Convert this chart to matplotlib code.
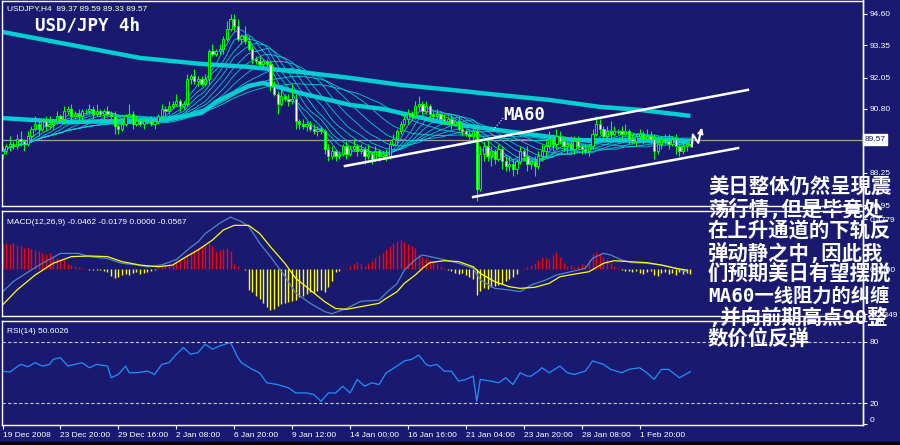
import numpy as np
import pandas as pd
import matplotlib
matplotlib.use('Agg')
import matplotlib.pyplot as plt
from matplotlib.transforms import blended_transform_factory
from matplotlib.lines import Line2D

BG = '#191970'
CYAN = '#00CED1'
GREEN = '#00FF00'
plt.rcParams['font.family'] = ['Liberation Sans', 'DejaVu Sans']

# --- H4 candles (closes, open = previous close) ---
closes = [89.1, 89.3, 89.4, 89.3, 89.6, 89.5, 89.4, 89.7, 90.0, 90.2,
          90.0, 90.3, 90.1, 90.2, 90.3, 90.5, 90.4, 90.7, 90.8, 90.5,
          90.6, 90.5, 90.7, 90.7, 90.8, 90.6, 90.7, 90.6, 90.7, 90.6,
          90.5, 90.1, 90.0, 90.2, 90.5, 90.6, 90.2, 90.3, 90.2, 90.3,
          90.3, 90.2, 90.3, 90.5, 90.8, 90.7, 90.9, 91.0, 91.1, 90.9,
          91.0, 92.0, 92.1, 91.9, 92.0, 91.8, 92.0, 93.1, 93.0, 93.1,
          93.2, 93.6, 94.0, 94.4, 94.1, 93.6, 93.7, 93.5, 93.2, 92.8,
          92.7, 92.6, 92.7, 92.6, 91.7, 91.4, 91.0, 91.3, 91.2, 91.1,
          91.2, 90.3, 90.2, 90.1, 90.2, 90.0, 89.9, 90.0, 89.9, 89.2,
          88.9, 89.1, 88.9, 89.0, 89.3, 89.0, 89.2, 89.3, 89.1, 89.2,
          88.9, 89.0, 88.8, 89.1, 88.9, 89.0, 88.9, 89.4, 89.6, 89.9,
          90.2, 90.4, 90.6, 90.5, 90.9, 91.0, 90.7, 90.9, 90.6, 90.5,
          90.6, 90.4, 90.3, 90.4, 90.2, 90.3, 90.0, 89.9, 89.8, 89.7,
          89.9, 87.6, 89.0, 89.3, 88.9, 89.1, 88.8, 89.2, 88.7, 88.5,
          88.6, 88.4, 88.7, 89.1, 88.9, 88.6, 88.7, 88.5, 88.9, 89.1,
          89.3, 89.6, 89.4, 89.7, 89.5, 89.3, 89.4, 89.2, 89.5, 89.3,
          89.2, 89.1, 89.3, 89.8, 90.2, 90.0, 89.7, 89.9, 89.8, 89.9,
          89.9, 89.8, 89.9, 89.6, 89.5, 89.7, 89.8, 89.6, 89.7, 89.6,
          89.1, 89.4, 89.6, 89.5, 89.4, 89.6, 89.3, 89.1, 89.3, 89.4, 89.57]
first_open = 89.0
wick_hi = [.2, .1, .3, .1, .2, .3, .1, .2, .1, .3,
           .2, .1, .2, .3, .1, .2, .1, .2, .1, .2,
           .1, .2, .1, .1, .2, .1, .3, .1, .1, .2,
           .1, .2, .1, .1, .1, .4, .1, .2, .1, .1,
           .1, .2, .1, .1, .2, .1, .2, .1, .3, .1,
           .1, .2, .1, .3, .1, .1, .2, .1, .3, .1,
           .2, .1, .3, .2, .2, .3, .1, .4, .2, .1,
           .1, .2, .1, .1, .1, .2, .1, .3, .1, .2,
           .6, .2, .1, .2, .1, .1, .2, .1, .1, .1,
           .2, .2, .1, .1, .1, .2, .1, .3, .1, .2,
           .1, .4, .1, .2, .1, .1, .2, .1, .2, .1,
           .1, .2, .2, .1, .2, .3, .1, .2, .1, .1,
           .2, .1, .2, .1, .2, .1, .2, .1, .1, .2,
           .3, .1, .3, .2, .3, .2, .1, .2, .1, .2,
           .3, .2, .1, .2, .1, .4, .1, .2, .2, .3,
           .2, .3, .2, .3, .2, .2, .1, .3, .2, .2,
           .1, .2, .1, .2, .3, .2, .1, .2, .4, .2,
           .1, .2, .3, .1, .2, .1, .2, .1, .3, .2,
           .2, .3, .1, .2, .3, .1, .2, .1, .2, .1, .05]
wick_lo = [.2, .1, .2, .1, .1, .2, .3, .1, .2, .1,
           .3, .1, .2, .1, .2, .1, .1, .2, .1, .3,
           .1, .1, .2, .1, .1, .2, .1, .1, .2, .1,
           .1, .3, .2, .1, .1, .1, .2, .1, .1, .2,
           .1, .1, .2, .1, .1, .2, .1, .1, .1, .2,
           .1, .1, .2, .1, .2, .1, .1, .2, .1, .1,
           .1, .2, .1, .1, .2, .1, .2, .1, .1, .2,
           .1, .1, .2, .1, .2, .1, .4, .1, .1, .2,
           .1, .3, .2, .1, .2, .1, .1, .2, .1, .2,
           .2, .1, .2, .1, .1, .2, .1, .1, .2, .1,
           .3, .1, .2, .1, .2, .1, .2, .1, .1, .2,
           .1, .1, .2, .1, .1, .2, .1, .1, .2, .1,
           .1, .2, .1, .1, .2, .1, .1, .2, .1, .2,
           .2, .5, .1, .3, .2, .4, .2, .1, .3, .2,
           .2, .3, .2, .1, .2, .3, .2, .4, .1, .2,
           .2, .1, .3, .2, .1, .2, .3, .1, .2, .1,
           .2, .1, .2, .1, .1, .2, .1, .1, .2, .1,
           .1, .2, .1, .2, .1, .2, .1, .2, .1, .2,
           .3, .1, .2, .1, .2, .1, .3, .2, .1, .2, .1]

# thick moving averages, sampled from the chart (bar index, price)
long_ma_x = [0, 19, 38, 55, 68, 82, 96, 110, 124, 137, 151, 165, 176, 190]
long_ma_v = [93.88, 93.36, 92.84, 92.60, 92.48, 92.28, 92.04, 91.76, 91.56,
             91.36, 91.16, 90.88, 90.76, 90.52]
ma60_x = [0, 18, 45, 55, 59, 64, 68, 72, 82, 96, 105, 121, 137, 158, 190]
ma60_v = [90.43, 90.27, 90.35, 90.64, 91.08, 91.44, 91.72, 91.84, 91.44,
          90.96, 90.80, 90.27, 89.95, 89.55, 89.51]
ribbon_periods = [5, 8, 11, 14, 18, 22, 27, 33, 40, 48]

# MACD(12,26,9)
macd_x = [0, 3, 7, 11, 16, 21, 24, 29, 33, 37, 40, 44, 48, 52, 54, 56, 60, 63,
          66, 68, 71, 74, 78, 81, 85, 89, 91, 95, 99, 104, 106, 109, 111, 114,
          116, 118, 122, 126, 130, 132, 136, 140, 143, 146, 150, 153, 157, 161,
          163, 166, 168, 171, 174, 178, 182, 186, 189]
macd_v = [-0.22, -0.12, -0.03, 0.055, 0.15, 0.15, 0.12, 0.10, 0.055, 0.04,
          0.02, 0.04, 0.09, 0.21, 0.26, 0.34, 0.44, 0.50, 0.455, 0.41,
          0.25, 0.12, -0.07, -0.23, -0.33, -0.41, -0.43, -0.38, -0.31, -0.30,
          -0.23, -0.14, -0.01, 0.09, 0.135, 0.12, 0.09, 0.055, 0.007, -0.106,
          -0.186, -0.202, -0.218, -0.154, -0.106, -0.058, -0.026, 0.007, 0.103,
          0.151, 0.135, 0.087, 0.061, 0.055, 0.038, 0.007, -0.026]
sig_x = [0, 4, 9, 14, 19, 24, 29, 33, 38, 43, 47, 50, 54, 58, 61, 64, 68, 71,
         74, 78, 81, 85, 89, 92, 95, 99, 104, 106, 109, 111, 114, 116, 118,
         122, 126, 130, 132, 136, 140, 143, 147, 151, 154, 158, 162, 166, 169,
         173, 178, 182, 186, 189]
sig_v = [-0.346, -0.202, -0.058, 0.055, 0.119, 0.125, 0.119, 0.071, 0.038,
         0.022, 0.038, 0.103, 0.183, 0.279, 0.375, 0.42, 0.42, 0.343, 0.215,
         0.055, -0.09, -0.202, -0.314, -0.38, -0.388, -0.362, -0.330, -0.282,
         -0.218, -0.138, -0.058, 0.007, 0.061, 0.080, 0.071, 0.022, -0.042,
         -0.122, -0.170, -0.186, -0.176, -0.138, -0.074, -0.049, -0.026, 0.055,
         0.080, 0.071, 0.061, 0.038, 0.007, -0.01]
hist = [0.24, 0.25, 0.24, 0.25, 0.23, 0.22, 0.20, 0.21, 0.19, 0.18, 0.17,
        0.15, 0.14, 0.15, 0.12, 0.11, 0.10, 0.09, 0.05, 0.04, 0.03, 0.02, 0.01,
        0.0, -0.005, -0.005,
        -0.01, -0.01, -0.02, -0.03, -0.07, -0.09, -0.08, -0.06, -0.05, -0.06,
        -0.04, -0.03, -0.05, -0.04, -0.03, -0.02,
        -0.01, 0.01, 0.02,
        0.04, 0.05, 0.06, 0.08, 0.09,
        0.12, 0.14, 0.16, 0.18, 0.20, 0.22, 0.24, 0.25, 0.22, 0.17, 0.18, 0.19,
        0.20, 0.17, 0.05, 0.03,
        0.0, -0.01,
        -0.20, -0.22, -0.26, -0.29, -0.33, -0.37, -0.39, -0.38, -0.36, -0.34,
        -0.33, -0.32, -0.31, -0.30, -0.27, -0.26, -0.24, -0.22, -0.23, -0.21,
        -0.20, -0.22, -0.17, -0.12,
        -0.03, -0.02, 0.0,
        0.01, 0.03, 0.05, 0.07,
        0.05, 0.03, 0.06, 0.08, 0.11, 0.13,
        0.15, 0.19, 0.22, 0.25, 0.27, 0.28, 0.26, 0.24, 0.22, 0.20, 0.14,
        0.12, 0.11, 0.09, 0.07, 0.05, 0.03, 0.01,
        -0.01, -0.02, -0.04, -0.05, -0.04, -0.06, -0.08, -0.10,
        -0.25, -0.21, -0.18, -0.19,
        -0.17, -0.16, -0.15, -0.14, -0.12, -0.10, -0.08, -0.05,
        0.0, 0.01, 0.02,
        0.04, 0.06, 0.09, 0.12, 0.11, 0.10,
        0.13, 0.16, 0.12,
        0.06, 0.03, 0.04, 0.02, 0.03, 0.05, 0.04,
        0.09, 0.14, 0.16, 0.15, 0.12, 0.10, 0.06,
        0.03, 0.01, -0.01, -0.02,
        -0.02, -0.03, -0.02, -0.04, -0.05, -0.03, -0.02, -0.06, -0.07, -0.04,
        -0.03, -0.05, -0.04, -0.06, -0.03, -0.05, -0.04, -0.05]

# RSI(14)
rsi_x = [0, 2, 5, 7, 9, 11, 13, 14, 16, 18, 20, 22, 24, 26, 29, 30, 32, 34, 35,
         37, 40, 42, 44, 46, 48, 50, 52, 54, 56, 58, 60, 63, 65, 66, 69, 71, 73,
         76, 79, 81, 84, 86, 88, 90, 92, 94, 96, 98, 100, 102, 104, 106, 109,
         111, 113, 115, 117, 118, 120, 122, 124, 126, 128, 130, 131, 132, 135,
         137, 139, 141, 143, 145, 146, 148, 149, 151, 154, 156, 158, 161, 163,
         166, 168, 171, 173, 176, 178, 180, 182, 184, 187, 190]
rsi_v = [51.1, 50.2, 57.7, 55.4, 59.3, 56.1, 57.7, 62.6, 64.3, 56.1, 57.7, 59.3,
         54.4, 57.7, 56.1, 44.6, 47.9, 56.1, 49.5, 49.5, 51.1, 47.9, 57.7, 59.3,
         67.5, 74.1, 67.5, 69.2, 77.4, 72.5, 75.7, 79.0, 64.3, 59.3, 52.8, 49.5,
         39.7, 38.0, 34.8, 29.8, 29.8, 28.2, 21.6, 29.8, 29.8, 36.4, 29.8, 43.0,
         36.4, 39.7, 38.0, 49.5, 56.1, 61.0, 62.6, 66.9, 57.7, 56.1, 57.7, 51.1,
         51.1, 41.3, 43.0, 46.2, 21.6, 43.0, 41.3, 39.7, 44.6, 38.0, 49.5, 46.2,
         46.2, 51.1, 54.4, 49.5, 56.1, 49.5, 47.9, 51.1, 61.0, 57.7, 52.8, 49.5,
         52.8, 54.4, 49.5, 43.0, 52.8, 52.8, 44.6, 50.6]

date_labels = ['19 Dec 2008', '23 Dec 20:00', '29 Dec 16:00', '2 Jan 08:00',
               '6 Jan 20:00', '9 Jan 12:00', '14 Jan 00:00', '16 Jan 16:00',
               '21 Jan 04:00', '23 Jan 20:00', '28 Jan 08:00', '1 Feb 20:00']
price_ticks = [94.60, 93.35, 92.05, 90.80, 88.25, 86.95]
last_price = 89.57

note_lines = ['美日整体仍然呈現震', '荡行情,但是毕竟处', '在上升通道的下轨反',
              '弹动静之中,因此我', '们预期美日有望摆脱', 'MA60一线阻力的纠缠',
              ',并向前期高点90整', '数价位反弹']

# ------------------------------------------------------------------
n = len(closes)
bars = np.arange(n)
opens = [first_open] + closes[:-1]
highs = [max(o, c) + w for o, c, w in zip(opens, closes, wick_hi)]
lows = [min(o, c) - w for o, c, w in zip(opens, closes, wick_lo)]

W, H = 900, 445


def box(x0, y0, x1, y1):
    return [x0 / W, 1 - y1 / H, (x1 - x0) / W, (y1 - y0) / H]


fig = plt.figure(figsize=(9, 4.45), dpi=100, facecolor=BG)
ax = fig.add_axes(box(2, 1, 863, 206))
ax_m = fig.add_axes(box(2, 211, 863, 316))
ax_r = fig.add_axes(box(2, 321, 863, 425))

XLIM = (-0.14, 237.7)
for a in (ax, ax_m, ax_r):
    a.set_facecolor(BG)
    a.set_xlim(*XLIM)
    for s in a.spines.values():
        s.set_color('white')
        s.set_linewidth(1)
    a.yaxis.tick_right()
    a.tick_params(axis='y', colors='white', length=3, width=0.8,
                  labelsize=6, pad=2)
    a.tick_params(axis='x', bottom=False, labelbottom=False)

# ---- main price panel ----
ax.set_ylim(86.91, 95.12)
ax.axhline(last_price, color='#a0a0a0', lw=0.9, zorder=1)
close_s = pd.Series(closes)
for p in ribbon_periods:
    ax.plot(bars, close_s.rolling(p, min_periods=1).mean(), color=CYAN,
            lw=0.6, zorder=2)
ax.plot(long_ma_x, long_ma_v, color=CYAN, lw=3.2, zorder=2,
        solid_capstyle='butt')
ax.plot(ma60_x, ma60_v, color=CYAN, lw=3.2, zorder=2, solid_capstyle='butt')

ax.vlines(bars, lows, highs, color=GREEN, lw=0.8, zorder=3)
faces = [BG if c >= o else 'white' for o, c in zip(opens, closes)]
ax.bar(bars, np.array(closes) - np.array(opens), bottom=opens, width=0.62,
       color=faces, edgecolor=GREEN, linewidth=0.7, zorder=4)

# channel lines and notes
ax.plot([94.6, 205.9], [88.51, 91.56], color='white', lw=1.8, zorder=5)
ax.plot([130.0, 203.2], [87.27, 89.23], color='white', lw=1.8, zorder=5)
ax.plot([135.5, 138.3], [89.95, 90.43], color='white', lw=0.8, ls=':',
        zorder=5)
ax.text(138.4, 90.56, 'MA60', color='white', fontsize=12.5,
        fontweight='bold', family='DejaVu Sans Mono', va='center', zorder=6)
ax.plot([190.4, 190.7, 192.2, 193.0], [89.30, 89.77, 89.44, 89.95],
        color='white', lw=1.5, zorder=6)
ax.annotate('', xy=(193.4, 90.15), xytext=(192.8, 89.80),
            arrowprops=dict(arrowstyle='-|>', color='white', lw=1.3,
                            mutation_scale=8), zorder=6)

ax.set_yticks(price_ticks)
ax.set_yticklabels(['%.2f' % v for v in price_ticks])
tr = blended_transform_factory(ax.transAxes, ax.transData)
ax.text(1.002, last_price, '%.2f' % last_price, transform=tr, fontsize=6,
        color=BG, va='center', ha='left', clip_on=False,
        bbox=dict(facecolor='white', edgecolor='white', pad=1.2))

ax.text(0.006, 0.965, 'USDJPY,H4  89.37 89.59 89.33 89.57',
        transform=ax.transAxes, color='white', fontsize=6, va='center')
ax.text(0.038, 0.88, 'USD/JPY 4h', transform=ax.transAxes, color='white',
        fontsize=12.6, fontweight='bold', family='DejaVu Sans Mono',
        va='center')

# ---- MACD panel ----
ax_m.set_ylim(-0.452, 0.558)
hist_a = np.array(hist)
ax_m.vlines(bars, 0, hist_a, colors=['red' if h > 0 else 'yellow'
                                      for h in hist_a], lw=1)
ax_m.plot(macd_x, macd_v, color='#4f86c6', lw=0.9)
ax_m.plot(sig_x, sig_v, color='yellow', lw=0.9)
ax_m.set_yticks([0.4779, 0.0, -0.4349])
ax_m.set_yticklabels(['0.4779', '0.0000', '-0.4349'])
ax_m.text(0.006, 0.89, 'MACD(12,26,9) -0.0462 -0.0179 0.0000 -0.0567',
          transform=ax_m.transAxes, color='white', fontsize=6, va='center')

# ---- RSI panel ----
ax_r.set_ylim(-1.46, 100)
ax_r.plot(rsi_x, rsi_v, color='#1e90ff', lw=0.9)
for lvl in (80, 20):
    ax_r.axhline(lvl, color='#c8c8c8', lw=0.8, ls=(0, (3, 2)))
ax_r.set_yticks([100, 80, 20, 0])
ax_r.set_yticklabels(['100', '80', '20', '0'])
yl = ax_r.get_yticklabels()
yl[0].set_va('top')
yl[3].set_va('bottom')
ax_r.text(0.006, 0.9, 'RSI(14) 50.6026', transform=ax_r.transAxes,
          color='white', fontsize=6, va='center')
ax_r.set_xticks(range(0, 16 * len(date_labels), 16))
ax_r.set_xticklabels(date_labels, ha='left')
ax_r.tick_params(axis='x', bottom=True, labelbottom=True, colors='white',
                 length=3, width=0.8, labelsize=6, pad=2)

# right edge line crossing the panel gaps, bottom frame strip
fig.add_artist(Line2D([863 / W, 863 / W], [1 - 425 / H, 1], color='white',
                      lw=1))
fig.add_artist(plt.Rectangle((0, 0), 1, 3 / H, color='black',
                             transform=fig.transFigure))

# chinese comment block (latin signs in half-width mono, as in the source)
for k, line in enumerate(note_lines):
    y = 188 + 21.7 * k
    fs = 13.9 if line.startswith('MA60') else 14.7
    fig.text(708 / W, 1 - y / H, line, color='white', fontsize=fs,
             fontweight='bold', va='center', ha='left',
             family=['DejaVu Sans Mono', 'Noto Sans CJK SC'])

fig.savefig('out.png', dpi=100, facecolor=BG)
